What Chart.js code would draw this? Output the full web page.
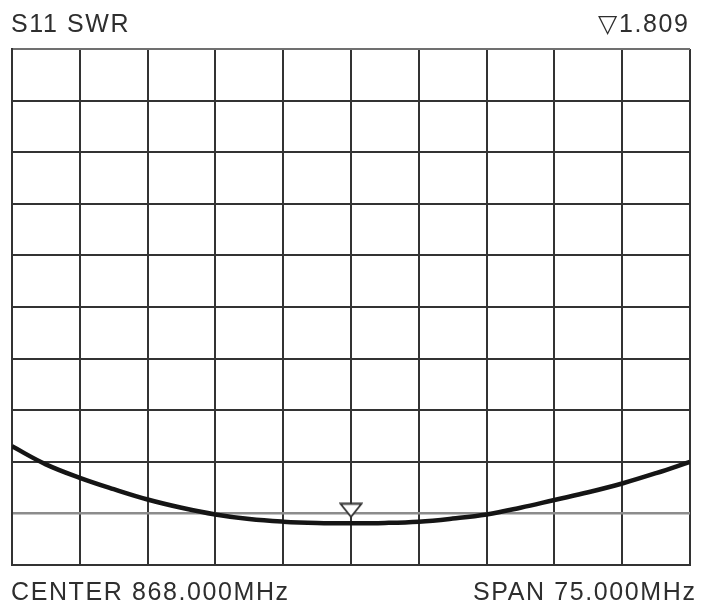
<!DOCTYPE html>
<html>
<head>
<meta charset="utf-8">
<script src="https://cdn.jsdelivr.net/npm/chart.js@4.4.0/dist/chart.umd.min.js"></script>
<style>
  html, body { margin: 0; padding: 0; background: #fff; }
  #wrap { position: relative; width: 701px; height: 607px; }
  #swrChart { position: absolute; left: 0; top: 0; }
  .lbl {
    position: absolute;
    font-family: "Liberation Sans", Arial, sans-serif;
    font-size: 25px;
    line-height: 25px;
    letter-spacing: 1.6px;
    color: #2e2e2e;
    white-space: nowrap;
  }
</style>
</head>
<body>
<div id="wrap">
  <canvas id="swrChart" width="701" height="607"></canvas>
  <div class="lbl" id="lblTitle" style="left:11px; top:11px;"></div>
  <div class="lbl" id="lblMarker" style="right:11.5px; top:11px;"></div>
  <div class="lbl" id="lblCenter" style="left:11px; top:579px;"></div>
  <div class="lbl" id="lblSpan" style="right:4.5px; top:579px;"></div>
</div>
<script>
document.addEventListener('DOMContentLoaded', () => {

  // sweep settings (MHz)
  const centerMHz = 868.0
  const spanMHz = 75.0
  const startMHz = centerMHz - spanMHz / 2
  const stopMHz = centerMHz + spanMHz / 2

  // SWR trace, one point every half division (3.75 MHz)
  const freqs = [
    830.5, 834.25, 838.0, 841.75, 845.5, 849.25, 853.0, 856.75, 860.5, 864.25, 868.0,
    871.75, 875.5, 879.25, 883.0, 886.75, 890.5, 894.25, 898.0, 901.75, 905.5
  ]
  const swr = [
    3.30, 2.95, 2.69, 2.47, 2.27, 2.11, 1.98, 1.89, 1.84, 1.815, 1.809,
    1.815, 1.84, 1.90, 1.98, 2.11, 2.26, 2.41, 2.58, 2.78, 3.00
  ]

  // marker 1
  const markerFreq = [868.0]
  const markerSwr = [1.809]

  // vertical scale: 1 / div, 10 divisions
  const swrMin = 1
  const swrMax = 11

  document.getElementById('lblTitle').textContent = 'S11 SWR'
  document.getElementById('lblMarker').textContent = '\u25BD' + markerSwr[0].toFixed(3)
  document.getElementById('lblCenter').textContent = 'CENTER ' + centerMHz.toFixed(3) + 'MHz'
  document.getElementById('lblSpan').textContent = 'SPAN ' + spanMHz.toFixed(3) + 'MHz'

  // hollow down-pointing marker, sitting just above the trace
  function markerImage() {
    const c = document.createElement('canvas')
    c.width = 24
    c.height = 42
    const g = c.getContext('2d')
    g.fillStyle = '#fff'
    g.strokeStyle = '#333'
    g.lineWidth = 1.8
    g.beginPath()
    g.moveTo(1.5, 1.5)
    g.lineTo(22.5, 1.5)
    g.lineTo(12, 14.5)
    g.closePath()
    g.fill()
    g.stroke()
    return c
  }

  new Chart(document.getElementById('swrChart'), {
    type: 'line',
    data: {
      datasets: [
        {
          label: 'marker',
          data: markerFreq.map((f, i) => ({ x: f, y: markerSwr[i] })),
          pointStyle: markerImage(),
          pointRadius: 10,
          showLine: false,
          order: 0
        },
        {
          label: 'S11 SWR',
          data: freqs.map((f, i) => ({ x: f, y: swr[i] })),
          borderColor: '#151515',
          borderWidth: 4.5,
          pointRadius: 0,
          fill: false,
          tension: 0.4,
          order: 1
        }
      ]
    },
    options: {
      responsive: false,
      animation: false,
      events: [],
      layout: { padding: { left: 12, right: 7, top: 49, bottom: 42 } },
      scales: {
        x: {
          type: 'linear',
          min: startMHz,
          max: stopMHz,
          ticks: { display: false, stepSize: spanMHz / 10 },
          grid: { color: '#333', lineWidth: 2, drawTicks: false },
          border: { color: '#333', width: 2 }
        },
        y: {
          min: swrMin,
          max: swrMax,
          ticks: { display: false, stepSize: 1 },
          grid: {
            color: ctx => ctx.tick && ctx.tick.value === 2 ? '#8c8c8c' : (ctx.tick && ctx.tick.value === swrMax ? '#707070' : '#333'),
            lineWidth: ctx => ctx.tick && ctx.tick.value === 2 ? 2.5 : 2,
            drawTicks: false
          },
          border: { color: '#333', width: 2 }
        }
      },
      plugins: {
        legend: { display: false },
        tooltip: { enabled: false }
      }
    }
  })
})
</script>
</body>
</html>
